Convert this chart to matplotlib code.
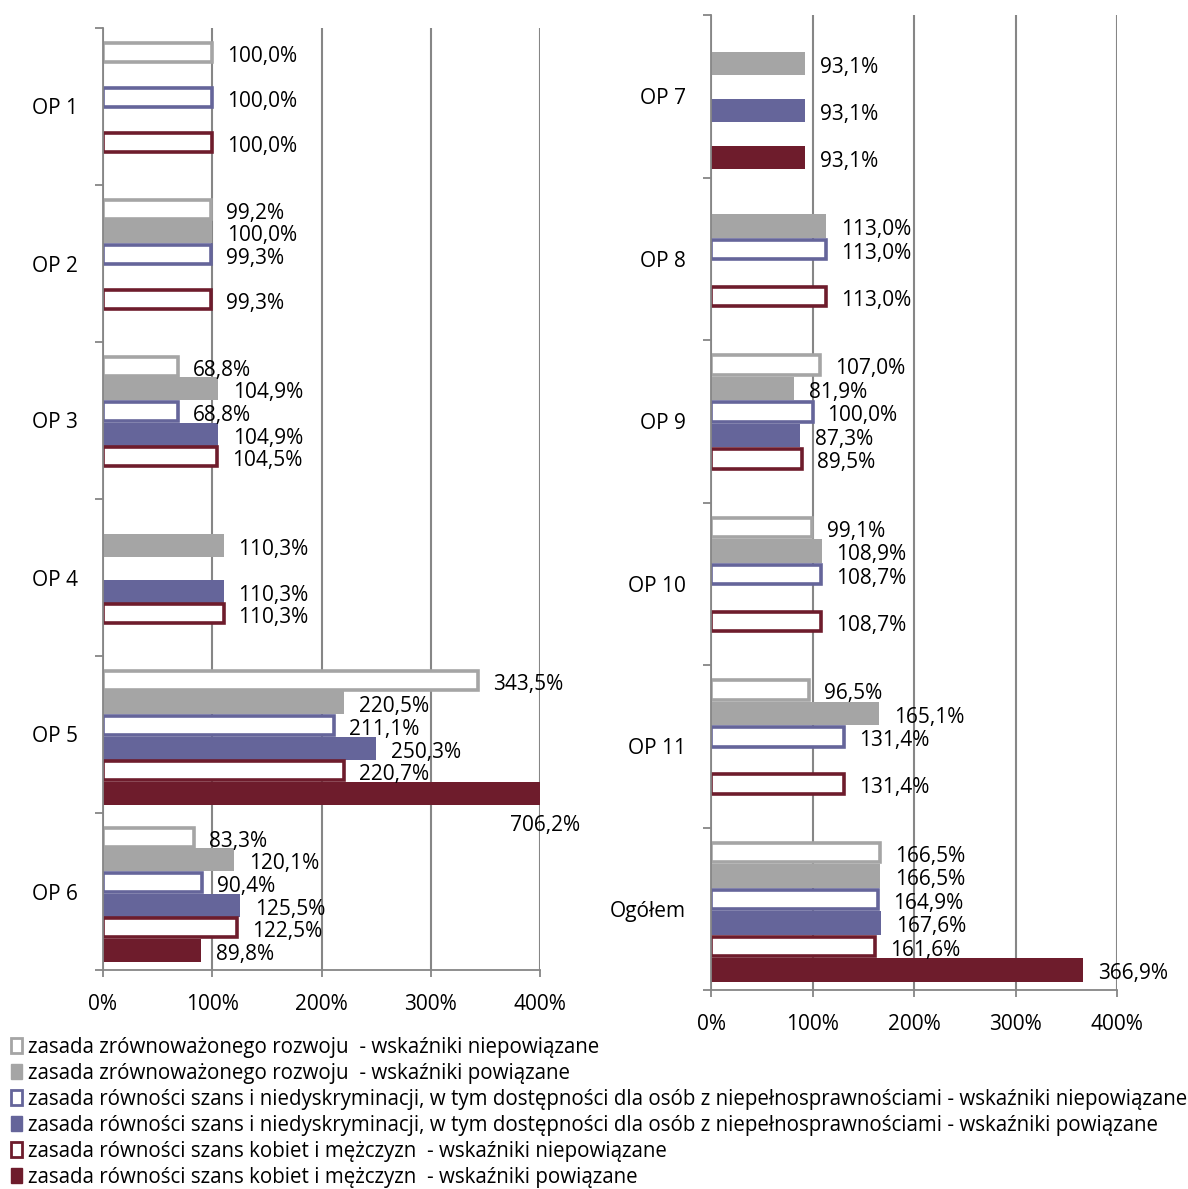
import numpy as np
import matplotlib
matplotlib.use('Agg')
import matplotlib.pyplot as plt
from matplotlib.patches import Patch

plt.rcParams['font.family'] = ['Open Sans', 'DejaVu Sans']

nan = np.nan

LEFT_CATS = ['OP 1', 'OP 2', 'OP 3', 'OP 4', 'OP 5', 'OP 6']
RIGHT_CATS = ['OP 7', 'OP 8', 'OP 9', 'OP 10', 'OP 11', 'Ogółem']

# left panel, one list per series (OP 1 .. OP 6)
zr_niep_l = [100.0, 99.2, 68.8, nan, 343.5, 83.3]
zr_pow_l = [nan, 100.0, 104.9, 110.3, 220.5, 120.1]
rs_niep_l = [100.0, 99.3, 68.8, nan, 211.1, 90.4]
rs_pow_l = [nan, nan, 104.9, 110.3, 250.3, 125.5]
kb_niep_l = [100.0, 99.3, 104.5, 110.3, 220.7, 122.5]
kb_pow_l = [nan, nan, nan, nan, 706.2, 89.8]

# right panel (OP 7 .. Ogółem)
zr_niep_r = [nan, nan, 107.0, 99.1, 96.5, 166.5]
zr_pow_r = [93.1, 113.0, 81.9, 108.9, 165.1, 166.5]
rs_niep_r = [nan, 113.0, 100.0, 108.7, 131.4, 164.9]
rs_pow_r = [93.1, nan, 87.3, nan, nan, 167.6]
kb_niep_r = [nan, 113.0, 89.5, 108.7, 131.4, 161.6]
kb_pow_r = [93.1, nan, nan, nan, nan, 366.9]

SERIES_LABELS = [
    'zasada zrównoważonego rozwoju  - wskaźniki niepowiązane',
    'zasada zrównoważonego rozwoju  - wskaźniki powiązane',
    'zasada równości szans i niedyskryminacji, w tym dostępności dla osób z niepełnosprawnościami - wskaźniki niepowiązane',
    'zasada równości szans i niedyskryminacji, w tym dostępności dla osób z niepełnosprawnościami - wskaźniki powiązane',
    'zasada równości szans kobiet i mężczyzn  - wskaźniki niepowiązane',
    'zasada równości szans kobiet i mężczyzn  - wskaźniki powiązane',
]

GREY = '#A5A5A5'
BLUE = '#65659A'
RED = '#6E1C2C'
LINE = '#868686'
STYLES = [(GREY, False), (GREY, True), (BLUE, False), (BLUE, True), (RED, False), (RED, True)]

XMAX = 400
SLOT = 0.1446
SHIFT = 0.015
FS = 15


def draw_panel(ax, cats, series):
    y = np.arange(len(cats))
    for j, vals in enumerate(series):
        color, filled = STYLES[j]
        pos = y + (j - 2.5) * SLOT + SHIFT
        vals = np.array(vals, dtype=float)
        if filled:
            ax.barh(pos, vals, height=SLOT, color=color, zorder=2)
        else:
            ax.barh(pos, vals, height=SLOT * 0.84, facecolor='white',
                    edgecolor=color, linewidth=2.6, zorder=2)
        for p, v in zip(pos, vals):
            if np.isnan(v):
                continue
            txt = '{:.1f}%'.format(v).replace('.', ',')
            if v > XMAX:
                ax.annotate(txt, (XMAX, p), xytext=(5, -32), textcoords='offset pixels',
                            ha='center', va='center', fontsize=FS, annotation_clip=False)
            else:
                ax.annotate(txt, (v, p), xytext=(15, -4), textcoords='offset pixels',
                            ha='left', va='center', fontsize=FS, zorder=3)

    ax.set_xlim(0, XMAX)
    ax.set_ylim(len(cats) - 0.5, -0.5)
    ax.set_xticks(range(0, XMAX + 1, 100))
    ax.set_xticklabels(['{}%'.format(t) for t in range(0, XMAX + 1, 100)], fontsize=FS)
    ax.set_yticks(np.arange(-0.5, len(cats), 1.0))
    ax.set_yticklabels([])
    ax.set_yticks(y, minor=True)
    ax.set_yticklabels(cats, minor=True, fontsize=FS)
    ax.tick_params(axis='y', which='major', length=6, color=LINE, width=1.3)
    ax.tick_params(axis='y', which='minor', length=0, pad=18)
    ax.tick_params(axis='x', length=5, color=LINE, width=1.3, pad=12)
    ax.xaxis.grid(True, color=LINE, linewidth=1.5)
    ax.set_axisbelow(True)
    for s in ['top', 'right']:
        ax.spines[s].set_visible(False)
    for s in ['left', 'bottom']:
        ax.spines[s].set_color(LINE)
        ax.spines[s].set_linewidth(1.3)


fig = plt.figure(figsize=(11.88, 11.89), dpi=100)
ax1 = fig.add_axes([103 / 1188, 1 - 970 / 1189, 437 / 1188, 942 / 1189])
ax2 = fig.add_axes([711 / 1188, 1 - 990 / 1189, 406 / 1188, 975 / 1189])

draw_panel(ax1, LEFT_CATS, [zr_niep_l, zr_pow_l, rs_niep_l, rs_pow_l, kb_niep_l, kb_pow_l])
draw_panel(ax2, RIGHT_CATS, [zr_niep_r, zr_pow_r, rs_niep_r, rs_pow_r, kb_niep_r, kb_pow_r])

handles = []
for color, filled in STYLES:
    if filled:
        handles.append(Patch(facecolor=color, edgecolor=color))
    else:
        handles.append(Patch(facecolor='white', edgecolor=color, linewidth=2))
fig.legend(handles, SERIES_LABELS, loc='upper left', bbox_to_anchor=(0.009, 1 - 1037 / 1189),
           frameon=False, fontsize=14.8, handlelength=0.55, handleheight=0.75,
           handletextpad=0.3, labelspacing=0.24, borderaxespad=0, borderpad=0)

fig.savefig('out.png', dpi=100)
